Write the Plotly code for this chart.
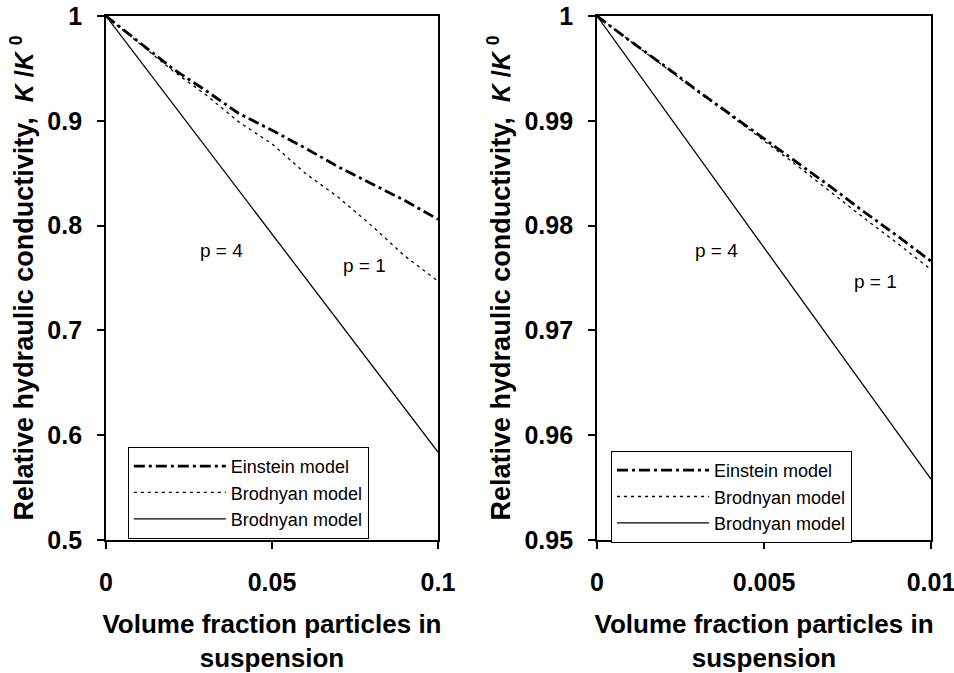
import plotly.graph_objects as go

# Volume fraction of particles (left panel: 0-0.1, right panel: 0-0.01)
phi_left = [0.0, 0.01, 0.02, 0.03, 0.04, 0.05, 0.06, 0.07, 0.08, 0.09, 0.10]
phi_right = [0.0, 0.001, 0.002, 0.003, 0.004, 0.005, 0.006, 0.007, 0.008, 0.009, 0.010]

# Relative hydraulic conductivity K/K0
einstein_left = [1.0, 0.975, 0.950, 0.929, 0.907, 0.891, 0.874, 0.856, 0.840, 0.824, 0.806]
brod_p1_left = [1.0, 0.974, 0.948, 0.925, 0.899, 0.878, 0.850, 0.827, 0.800, 0.771, 0.747]
brod_p4_phi_left = [0.0, 0.10]
brod_p4_left = [1.0, 0.584]

einstein_right = [1.0, 0.9976, 0.9953, 0.9929, 0.9906, 0.9883, 0.9860, 0.9837, 0.9813, 0.9790, 0.9766]
brod_p1_right = [1.0, 0.9976, 0.9952, 0.9928, 0.9905, 0.9881, 0.9857, 0.9832, 0.9807, 0.9783, 0.9758]
brod_p4_phi_right = [0.0, 0.010]
brod_p4_right = [1.0, 0.9558]

left_yticks = [0.5, 0.6, 0.7, 0.8, 0.9, 1.0]
left_yticktext = ["0.5", "0.6", "0.7", "0.8", "0.9", "1"]
left_xticks = [0.0, 0.05, 0.1]
left_xticktext = ["0", "0.05", "0.1"]
right_yticks = [0.95, 0.96, 0.97, 0.98, 0.99, 1.0]
right_yticktext = ["0.95", "0.96", "0.97", "0.98", "0.99", "1"]
right_xticks = [0.0, 0.005, 0.01]
right_xticktext = ["0", "0.005", "0.01"]

series_names = ["Einstein model", "Brodnyan model", "Brodnyan model"]

# Shape-parameter labels: (text, x, y) per panel
left_labels = [("p = 4", 0.0348, 0.776), ("p = 1", 0.0779, 0.762)]
right_labels = [("p = 4", 0.00359, 0.97766), ("p = 1", 0.00835, 0.97471)]

FONT = "Arial, Liberation Sans, sans-serif"
einstein_line = dict(color="black", width=2.8, dash="11px,4px,3px,4px")
p1_line = dict(color="black", width=1.3, dash="3px,4px")
p4_line = dict(color="black", width=1.3)

fig = go.Figure()

for xs, e, b1, xs4, b4, xa, ya, lg in [
    (phi_left, einstein_left, brod_p1_left, brod_p4_phi_left, brod_p4_left, "x", "y", "legend"),
    (phi_right, einstein_right, brod_p1_right, brod_p4_phi_right, brod_p4_right, "x2", "y2", "legend2"),
]:
    fig.add_trace(go.Scatter(x=xs, y=e, mode="lines", line=einstein_line, name=series_names[0],
                             xaxis=xa, yaxis=ya, legend=lg))
    fig.add_trace(go.Scatter(x=xs, y=b1, mode="lines", line=p1_line, name=series_names[1],
                             xaxis=xa, yaxis=ya, legend=lg))
    fig.add_trace(go.Scatter(x=xs4, y=b4, mode="lines", line=p4_line, name=series_names[2],
                             xaxis=xa, yaxis=ya, legend=lg))

axis_common = dict(
    showline=True, linecolor="black", linewidth=1.8, mirror=True,
    ticks="outside", ticklen=7, tickwidth=1.5, tickcolor="black",
    showgrid=False, zeroline=False, automargin=False, ticklabeloverflow="allow",
    tickfont=dict(family=FONT, size=25, color="black", weight="bold"),
)
xtitle = dict(text="Volume fraction particles in<br>suspension",
              font=dict(family=FONT, size=26, color="black", weight="bold"), standoff=22)
ytitle = dict(text="<b>Relative hydraulic conductivity,  "
                   "<span style='font-size:25px'><i>K</i> /<i>K</i> <sup>0</sup></span></b>",
              font=dict(family=FONT, size=27, color="black", weight="bold"), standoff=6)

legend_common = dict(xanchor="left", yanchor="top",
                     bgcolor="white", bordercolor="black", borderwidth=1,
                     font=dict(family=FONT, size=18, color="black"),
                     itemwidth=92, tracegroupgap=0)

fig.update_layout(
    width=954, height=673,
    margin=dict(l=0, r=0, t=0, b=0, autoexpand=False),
    paper_bgcolor="white", plot_bgcolor="white",
    showlegend=True,
    xaxis=dict(axis_common, domain=[0.1111, 0.4591], range=[0, 0.1],
               tickvals=left_xticks, ticktext=left_xticktext, ticklabelstandoff=12,
               title=xtitle),
    yaxis=dict(axis_common, domain=[0.1976, 0.9762], range=[0.5, 1.0],
               tickvals=left_yticks, ticktext=left_yticktext, ticklabelstandoff=10,
               title=ytitle),
    xaxis2=dict(axis_common, domain=[0.6258, 0.9759], range=[0, 0.01], anchor="y2",
                tickvals=right_xticks, ticktext=right_xticktext, ticklabelstandoff=12,
                title=xtitle),
    yaxis2=dict(axis_common, domain=[0.1976, 0.9762], range=[0.95, 1.0], anchor="x2",
                tickvals=right_yticks, ticktext=right_yticktext, ticklabelstandoff=10,
                title=ytitle),
    legend=dict(legend_common, x=0.134, y=0.336),
    legend2=dict(legend_common, x=0.6405, y=0.330),
)

for labels, xr, yr in [(left_labels, "x", "y"), (right_labels, "x2", "y2")]:
    for txt, x, y in labels:
        fig.add_annotation(x=x, y=y, xref=xr, yref=yr, text=txt, showarrow=False,
                           font=dict(family=FONT, size=19, color="black"))

fig.write_html("out.html")
